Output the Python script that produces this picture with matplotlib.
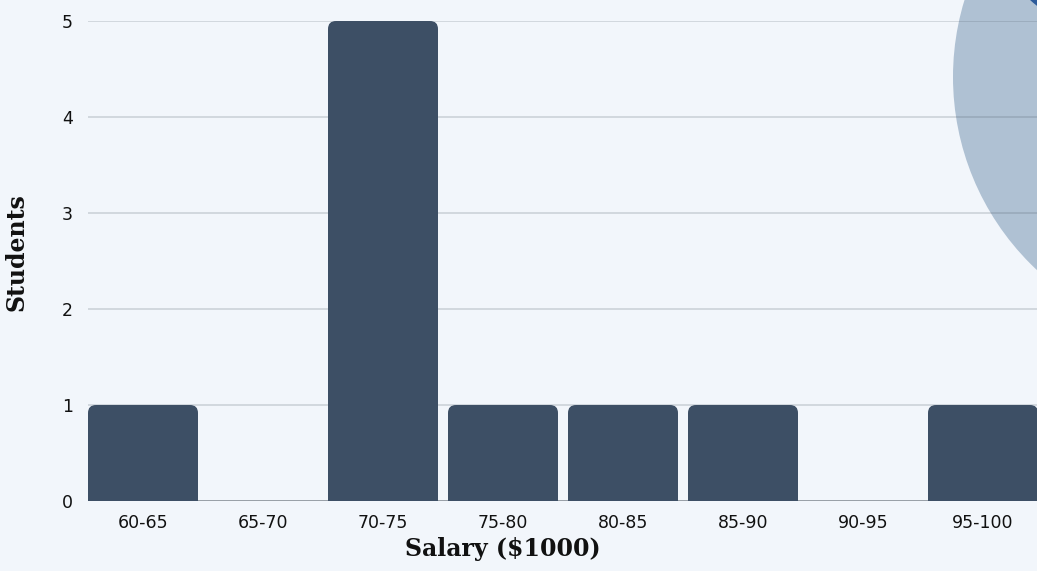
import matplotlib.pyplot as plt
from matplotlib.patches import FancyBboxPatch, Circle

bins = ['60-65', '65-70', '70-75', '75-80', '80-85', '85-90', '90-95', '95-100']
students = [1, 0, 5, 1, 1, 1, 0, 1]

bg = '#f2f6fb'
bar_color = '#3d4f65'
W, H = 1037, 571

fig = plt.figure(figsize=(W / 100, H / 100), dpi=100, facecolor=bg)

# decoration circles (pixel coords)
deco = fig.add_axes([0, 0, 1, 1], zorder=0)
deco.set_xlim(0, W)
deco.set_ylim(H, 0)
deco.axis('off')
deco.add_patch(Circle((1217, 77), 264, color='#afc1d3', lw=0))
deco.add_patch(Circle((1250, -250), 333, color='#2d5b9a', lw=0))

bw = 110 / 120
x0 = 88 / W
ax = fig.add_axes([x0, 70 / H, 950 / W, 480 / H], zorder=1)
ax.patch.set_alpha(0)

bars = ax.bar(range(len(bins)), students, width=bw, color=bar_color)
r = 8 / 120
for b in bars:
    if b.get_height() > 0:
        fb = FancyBboxPatch((b.get_x(), -0.2), b.get_width(), b.get_height() + 0.2,
                            boxstyle='round,pad=0,rounding_size=%f' % r,
                            mutation_aspect=120 / 96, fc=bar_color, ec='none', zorder=3)
        ax.add_patch(fb)
    b.remove()

ax.set_xlim(-bw / 2, len(bins) - 1 + bw / 2)
ax.set_ylim(0, 5)
ax.set_yticks(range(6))
ax.set_xticks(range(len(bins)))
ax.set_xticklabels(bins)
ax.grid(axis='y', color='#505a66', alpha=0.25, lw=1.1)
ax.set_axisbelow(True)
for s in ax.spines.values():
    s.set_visible(False)
ax.axhline(0, color='#8f969e', lw=1.2, zorder=2)
ax.tick_params(length=0, labelsize=12.5, colors='#111111')
ax.tick_params(axis='y', pad=11)
ax.tick_params(axis='x', pad=9)
for t in ax.get_xticklabels() + ax.get_yticklabels():
    t.set_fontfamily('DejaVu Sans')

ax.set_xlabel('Salary ($1000)', fontfamily='DejaVu Serif', fontweight='bold', fontsize=17, color='#111111')
ax.set_ylabel('Students', fontfamily='DejaVu Serif', fontweight='bold', fontsize=17, color='#111111')
ax.xaxis.set_label_coords((503 - 88) / 950, (501 - 549) / 480)
ax.yaxis.set_label_coords((17 - 88) / 950, (501 - 252) / 480)
ax.xaxis.label.set_va('center')
ax.yaxis.label.set_va('center')

fig.savefig('out.png', dpi=100, facecolor=bg)
